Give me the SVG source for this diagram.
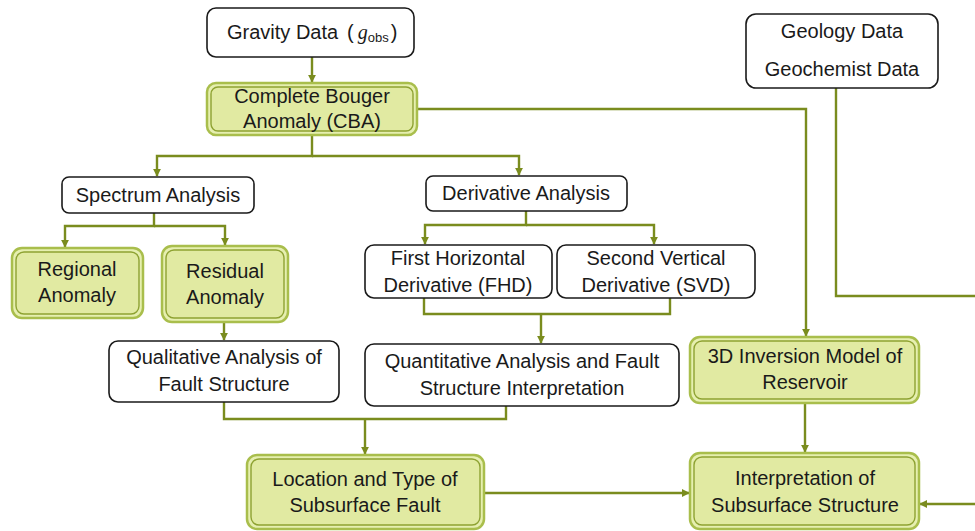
<svg xmlns="http://www.w3.org/2000/svg" width="975" height="531" viewBox="0 0 975 531">
<defs>
<marker id="arr" viewBox="0 0 10 10" refX="9" refY="5" markerWidth="3.4" markerHeight="3.4" orient="auto" markerUnits="strokeWidth">
<path d="M0,0 L10,5 L0,10 z" fill="#7a8c1e"/>
</marker>
<style>
.w{fill:#ffffff;stroke:#1a1a1a;stroke-width:1.6}
.go{fill:#e6efb0;stroke:#a9be4c;stroke-width:2.5}
.gi{fill:#e1eaa2;stroke:#8ea232;stroke-width:1.4}
.t{font-family:"Liberation Sans",Arial,sans-serif;font-size:20px;fill:#1a1a1a;text-anchor:middle}
.c{fill:none;stroke:#7a8c1e;stroke-width:2.4}
</style>
</defs>
<rect width="975" height="531" fill="#ffffff"/>

<g id="connectors">
<path class="c" d="M312,57 V82" marker-end="url(#arr)"/>
<path class="c" d="M417,109 H806 V336" marker-end="url(#arr)"/>
<path class="c" d="M312,135 V156 H157 V176" marker-end="url(#arr)"/>
<path class="c" d="M312,156 H519 V175" marker-end="url(#arr)"/>
<path class="c" d="M154,213 V226 H65 V247" marker-end="url(#arr)"/>
<path class="c" d="M154,226 H225 V245" marker-end="url(#arr)"/>
<path class="c" d="M224,322 V340" marker-end="url(#arr)"/>
<path class="c" d="M526,211 V225 H425 V244" marker-end="url(#arr)"/>
<path class="c" d="M526,225 H654 V244" marker-end="url(#arr)"/>
<path class="c" d="M424,298 V314 H670 V298"/>
<path class="c" d="M541,314 V343" marker-end="url(#arr)"/>
<path class="c" d="M224,402 V419 H506 V406"/>
<path class="c" d="M365,419 V454" marker-end="url(#arr)"/>
<path class="c" d="M484,493 H689" marker-end="url(#arr)"/>
<path class="c" d="M805,403 V452" marker-end="url(#arr)"/>
<path class="c" d="M836,88 V296 H990 V504 H920" marker-end="url(#arr)"/>
</g>

<g id="gravity">
<rect class="w" x="207" y="8" width="207" height="49" rx="9"/>
<text x="227" y="39" font-family="Liberation Sans,Arial,sans-serif" font-size="20" fill="#1a1a1a">Gravity Data<tspan x="347">(</tspan><tspan font-family="Liberation Serif,serif" font-style="italic" dx="4">g</tspan><tspan font-size="13" dy="3">obs</tspan><tspan dy="-3" dx="2">)</tspan></text>
</g>

<g id="cba">
<rect class="go" x="207" y="83" width="210" height="52" rx="9"/>
<rect class="gi" x="211" y="87" width="202" height="44" rx="7"/>
<text class="t" x="312" y="103">Complete Bouger</text>
<text class="t" x="312" y="128">Anomaly (CBA)</text>
</g>

<g id="geology">
<rect class="w" x="746" y="14" width="192" height="74" rx="10"/>
<text class="t" x="842" y="38">Geology Data</text>
<text class="t" x="842" y="76">Geochemist Data</text>
</g>

<g id="spectrum">
<rect class="w" x="62" y="177" width="192" height="36" rx="7"/>
<text class="t" x="158" y="202">Spectrum Analysis</text>
</g>

<g id="derivative">
<rect class="w" x="426" y="176" width="201" height="35" rx="7"/>
<text class="t" x="526" y="200">Derivative Analysis</text>
</g>

<g id="regional">
<rect class="go" x="12" y="248" width="131" height="70" rx="10"/>
<rect class="gi" x="16" y="252" width="123" height="62" rx="8"/>
<text class="t" x="77" y="276">Regional</text>
<text class="t" x="77" y="302">Anomaly</text>
</g>

<g id="residual">
<rect class="go" x="162" y="246" width="126" height="76" rx="10"/>
<rect class="gi" x="166" y="250" width="118" height="68" rx="8"/>
<text class="t" x="225" y="278">Residual</text>
<text class="t" x="225" y="304">Anomaly</text>
</g>

<g id="fhd">
<rect class="w" x="365" y="245" width="187" height="53" rx="9"/>
<text class="t" x="458" y="265">First Horizontal</text>
<text class="t" x="458" y="292">Derivative (FHD)</text>
</g>

<g id="svd">
<rect class="w" x="557" y="245" width="198" height="53" rx="9"/>
<text class="t" x="656" y="265">Second Vertical</text>
<text class="t" x="656" y="292">Derivative (SVD)</text>
</g>

<g id="qualitative">
<rect class="w" x="109" y="341" width="230" height="61" rx="9"/>
<text class="t" x="224" y="364">Qualitative Analysis of</text>
<text class="t" x="224" y="391">Fault Structure</text>
</g>

<g id="quantitative">
<rect class="w" x="365" y="344" width="314" height="62" rx="9"/>
<text class="t" x="522" y="368">Quantitative Analysis and Fault</text>
<text class="t" x="522" y="395">Structure Interpretation</text>
</g>

<g id="inversion">
<rect class="go" x="690" y="337" width="229" height="66" rx="10"/>
<rect class="gi" x="694" y="341" width="221" height="58" rx="8"/>
<text class="t" x="805" y="363">3D Inversion Model of</text>
<text class="t" x="805" y="389">Reservoir</text>
</g>

<g id="location">
<rect class="go" x="247" y="455" width="237" height="74" rx="10"/>
<rect class="gi" x="251" y="459" width="229" height="66" rx="8"/>
<text class="t" x="365" y="486">Location and Type of</text>
<text class="t" x="365" y="512">Subsurface Fault</text>
</g>

<g id="interpretation">
<rect class="go" x="690" y="453" width="229" height="76" rx="10"/>
<rect class="gi" x="694" y="457" width="221" height="68" rx="8"/>
<text class="t" x="805" y="485">Interpretation of</text>
<text class="t" x="805" y="512">Subsurface Structure</text>
</g>
</svg>
